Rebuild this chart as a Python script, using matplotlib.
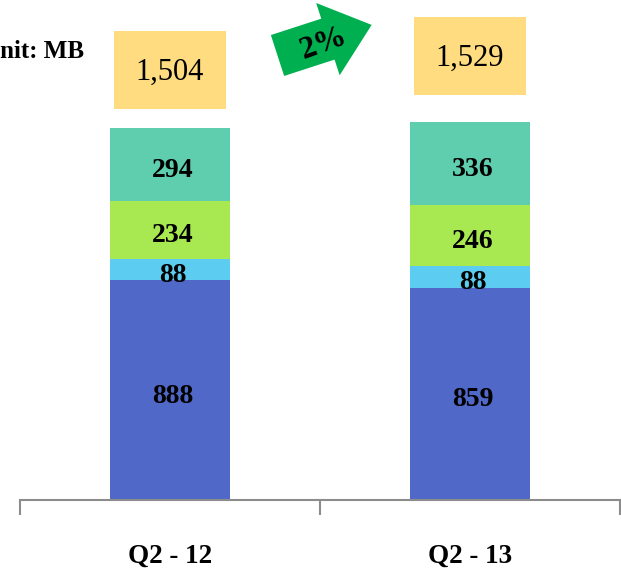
import math
import matplotlib
matplotlib.use("Agg")
import matplotlib.pyplot as plt
from matplotlib.patches import Rectangle, Polygon

plt.rcParams["font.family"] = ["Liberation Serif", "DejaVu Serif"]

# ── data ───────────────────────────────────
quarters = ["Q2 - 12", "Q2 - 13"]
seg_a = [888, 859]   # bottom, blue
seg_b = [88, 88]     # light blue
seg_c = [234, 246]   # lime
seg_d = [294, 336]   # teal
totals = [1504, 1529]
growth = "2%"

BLUE = "#5068C8"
SKY = "#5CCDF0"
LIME = "#A8E850"
TEAL = "#5ECEAE"
YELLOW = "#FFDC80"
ARROW = "#00B050"
GREY = "#8C8C8C"

W, H = 621, 577
fig = plt.figure(figsize=(W / 100, H / 100), dpi=100, facecolor="white")
ax = fig.add_axes([20 / W, (H - 500) / H, 600 / W, 500 / H])
ax.set_xlim(-0.5, 1.5)
ax.set_ylim(0, 2022)

x = list(range(len(quarters)))
bw = 0.4
bottom = [0, 0]
for vals, col in [(seg_a, BLUE), (seg_b, SKY), (seg_c, LIME), (seg_d, TEAL)]:
    ax.bar(x, vals, bw, bottom=bottom, color=col, edgecolor="none", zorder=2)
    for xi, v, b in zip(x, vals, bottom):
        ax.text(xi + 0.01, b + v / 2 - 24, f"{v:,}", ha="center", va="center",
                fontsize=20, fontweight="bold", color="black", zorder=3)
    bottom = [b + v for b, v in zip(bottom, vals)]

# total boxes
box_w, box_h = 0.373, 315
box_gap = [77, 109]
for xi, t, g in zip(x, totals, box_gap):
    y0 = t + g
    ax.add_patch(Rectangle((xi - box_w / 2, y0), box_w, box_h,
                           facecolor=YELLOW, edgecolor="none", zorder=2))
    ax.text(xi, y0 + box_h / 2 - 8, f"{t:,}", ha="center", va="center",
            fontsize=22, color="black", zorder=3)

# axis styling
for s in ["top", "right", "left"]:
    ax.spines[s].set_visible(False)
ax.spines["bottom"].set_color(GREY)
ax.spines["bottom"].set_linewidth(1.5)
ax.set_yticks([])
ax.set_xticks([-0.5, 0.5, 1.5])
ax.set_xticklabels([])
ax.tick_params(axis="x", length=11, width=1.5, color=GREY, direction="out")
for xi, q in zip(x, quarters):
    ax.text(xi, -0.112, q, transform=ax.get_xaxis_transform(), ha="center",
            va="center", fontsize=19.5, fontweight="bold")

# unit label (left part cut off by the figure edge, as in the original)
fig.text(84 / W, 1 - 51 / H, "Unit: MB", ha="right", va="center",
         fontsize=18, fontweight="bold")

# growth arrow
ang = math.radians(18)
T = (277.5, 55.5)
d = (math.cos(ang), -math.sin(ang))
n = (math.sin(ang), math.cos(ang))
L, HL, hs, hh = 53, 46, 21.5, 38


def pt(a, b):
    return (T[0] + a * d[0] + b * n[0], T[1] + a * d[1] + b * n[1])


pts = [pt(0, -hs), pt(L, -hs), pt(L, -hh), pt(L + HL, 0),
       pt(L, hh), pt(L, hs), pt(0, hs)]
pts = [(px / W, 1 - py / H) for px, py in pts]
fig.patches.append(Polygon(pts, closed=True, facecolor=ARROW, edgecolor="none",
                           transform=fig.transFigure))
fig.text(324 / W, 1 - 44 / H, growth, ha="center", va="center", rotation=20,
         fontsize=23, fontweight="bold")

fig.savefig("out.png", dpi=100, facecolor="white")
